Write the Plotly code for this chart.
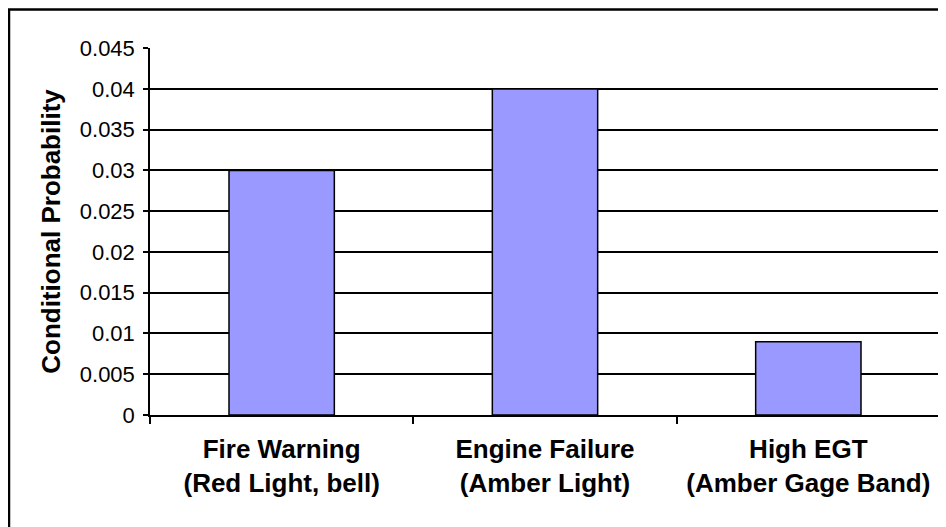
import plotly.graph_objects as go

categories = ["Fire Warning<br>(Red Light, bell)", "Engine Failure<br>(Amber Light)", "High EGT<br>(Amber Gage Band)"]
probabilities = [0.03, 0.04, 0.009]
y_tick_values = [0, 0.005, 0.01, 0.015, 0.02, 0.025, 0.03, 0.035, 0.04, 0.045]
y_tick_labels = ["0", "0.005", "0.01", "0.015", "0.02", "0.025", "0.03", "0.035", "0.04", "0.045"]

# page body has an 8px margin, so figure coordinates are offset by 8px
W, H = 938, 519
L, R, T, B = 142, 6, 40, 112
pw, ph = W - L - R, H - T - B

fig = go.Figure(go.Bar(
    x=categories, y=probabilities,
    marker=dict(color="#9999FF", line=dict(color="black", width=1.5)),
))

def px_to_paper_x(px):
    return (px - L) / pw

def px_to_paper_y(py):
    return (H - B - py) / ph

fig.add_shape(type="rect", xref="paper", yref="paper",
              x0=px_to_paper_x(1), x1=px_to_paper_x(960),
              y0=px_to_paper_y(540), y1=px_to_paper_y(1.5),
              line=dict(color="black", width=2.5), fillcolor="rgba(0,0,0,0)", layer="above")

fig.update_layout(
    width=W, height=H,
    margin=dict(l=L, r=R, t=T, b=B),
    paper_bgcolor="white", plot_bgcolor="white",
    bargap=0.6,
    showlegend=False,
    font=dict(family="Liberation Sans, Arial, sans-serif", color="black"),
)
fig.update_xaxes(
    showline=True, linecolor="black", linewidth=1.5,
    ticks="outside", tickson="boundaries", ticklen=7, tickwidth=1.5, tickcolor="black",
    tickfont=dict(size=26, weight="bold"),
    ticklabelstandoff=10,
    showgrid=False,
)
fig.update_yaxes(
    range=[0, 0.04502],
    tickvals=y_tick_values, ticktext=y_tick_labels,
    showline=True, linecolor="black", linewidth=1.5,
    ticks="outside", ticklen=5, tickwidth=1.5, tickcolor="black",
    tickfont=dict(size=22),
    ticklabelstandoff=4,
    showgrid=True, gridcolor="black", gridwidth=1.5,
    zeroline=False,
    title=dict(text="Conditional Probability", font=dict(size=26, weight="bold"), standoff=12),
)

fig.write_html("out.html")
